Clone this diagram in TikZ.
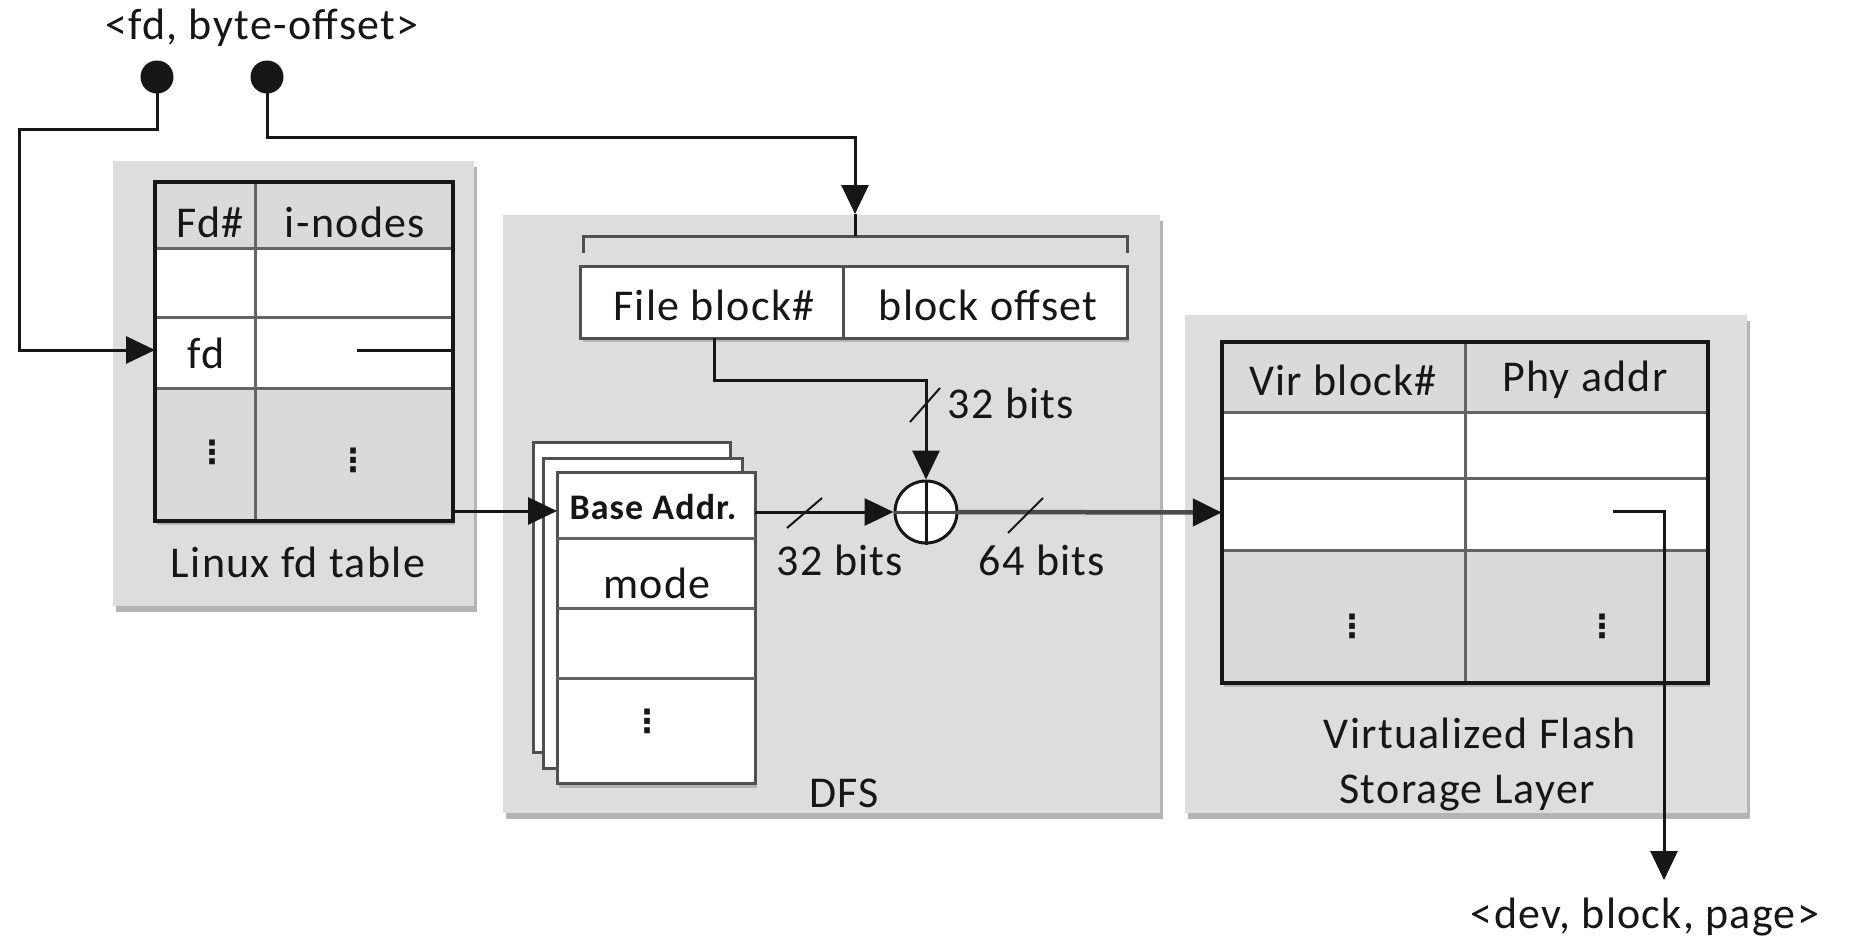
\documentclass[tikz,border=0pt]{standalone}
\usepackage{fontspec}
\setmainfont{Carlito}[LetterSpace=3]
\newfontfamily\symfont{DejaVu Sans Bold}
\usetikzlibrary{arrows.meta,fit,shadows,calc}
\definecolor{panel}{RGB}{221,221,221}
\definecolor{cellgray}{RGB}{218,218,218}
\definecolor{shade}{RGB}{180,180,180}
\definecolor{rowline}{RGB}{100,100,100}
\definecolor{sheetline}{RGB}{80,80,80}
\definecolor{ink}{RGB}{22,22,22}
\definecolor{wide}{RGB}{75,75,75}
\tikzset{
  lbl/.style={font=\fontsize{44}{50}\selectfont, text=ink, inner sep=0pt},
  blbl/.style={font=\fontsize{36}{40}\selectfont\bfseries, text=ink, inner sep=0pt},
  dotsym/.style={font=\symfont\fontsize{32}{32}\selectfont, text=ink, inner sep=0pt},
  conn/.style={draw=ink, line width=3pt},
  conn64/.style={draw=wide, line width=4.5pt},
  arr/.style={-{Triangle[length=29pt,width=27pt,color=ink]}},
  panelbox/.style={fill=panel, draw=none, inner sep=0pt,
    drop shadow={shadow xshift=3pt, shadow yshift=-6pt, fill=shade, opacity=1}},
  whitebox/.style={fill=white, draw=none, inner sep=0pt,
    drop shadow={shadow xshift=2pt, shadow yshift=-4pt, fill=shade, opacity=1}},
  border/.style={draw=ink, line width=4.5pt},
  rowl/.style={draw=rowline, line width=3pt},
  sheet/.style={fill=white, draw=sheetline, line width=3pt, inner sep=0pt},
  bigdot/.style={circle, fill=ink, minimum size=33pt, inner sep=0pt},
  slash/.style={draw=ink, line width=2pt},
}
\begin{document}
\begin{tikzpicture}[x=1pt,y=-1pt]
\useasboundingbox (0,0) rectangle (1853,940);

% ---------------- panels ----------------
\node[panelbox, fit={(113,161) (474,606)}] (lpanel) {};
\node[panelbox, fit={(503,215) (1160,813)}] (dpanel) {};
\node[panelbox, fit={(1185,315) (1747,813)}] (vpanel) {};

% ---------------- Linux fd table ----------------
\node[whitebox, fit={(155,182) (453,521)}] (ltab) {};
\fill[cellgray] (155,182) rectangle (453,248);
\fill[cellgray] (155,388) rectangle (453,521);
\draw[rowl] (155,248) -- (453,248);
\draw[rowl] (155,317) -- (453,317);
\draw[rowl] (155,388) -- (453,388);
\draw[rowl] (255,182) -- (255,521);
\draw[border] (ltab.north west) rectangle (ltab.south east);
\node[lbl] (fdh) at (210,222) {Fd\#};
\node[lbl] (inh) at (355,222) {i-nodes};
\node[lbl] (fdc) at (206,353) {fd};
\node[dotsym] (ld1) at (212,452) {⋮};
\node[dotsym] (ld2) at (353,460) {⋮};
\node[lbl] (ltitle) at (298,562) {Linux fd table};

% ---------------- DFS ----------------
\draw[draw=sheetline, line width=3pt] (583,253) -- (583,236) -- (1127,236) -- (1127,253);
\node[whitebox, fit={(581,267) (1127,338)}] (fbox) {};
\draw[draw=sheetline, line width=3pt] (fbox.north west) rectangle (fbox.south east);
\draw[draw=sheetline, line width=3pt] (843,267) -- (843,338);
\node[lbl] (fb) at (714,305) {File block\#};
\node[lbl] (bo) at (988,305) {block offset};

% stack of sheets
\node[sheet, fit={(533,442) (730,752)}] (back) {};
\node[sheet, fit={(543,458) (742,768)}] (mid) {};
\node[sheet, fit={(557,472) (755,783)},
  drop shadow={shadow xshift=2pt, shadow yshift=-5pt, fill=shade, opacity=1}] (front) {};
\draw[rowl] (557,538) -- (755,538);
\draw[rowl] (557,608) -- (755,608);
\draw[rowl] (557,678) -- (755,678);
\node[blbl] (ba) at (653,507) {Base Addr.};
\node[lbl] (mode) at (657,583) {mode};
\node[dotsym] (sd) at (647,721) {⋮};

% adder
\node[circle, fill=white, draw=ink, line width=3pt, minimum size=62pt, inner sep=0pt] (plus) at (926,512) {};
\draw[draw=wide, line width=3pt] (plus.west) -- (plus.east);
\draw[draw=ink, line width=3pt] (plus.north) -- (plus.south);
\node[lbl] (b32a) at (1011,403) {32 bits};
\node[lbl] (b32b) at (840,560) {32 bits};
\node[lbl] (b64) at (1042,560) {64 bits};
\node[lbl] (dfs) at (844,793) {DFS};

% ---------------- Virtualized Flash Storage Layer ----------------
\node[whitebox, fit={(1222,342) (1708,683)}] (vtab) {};
\fill[cellgray] (1222,342) rectangle (1708,412);
\fill[cellgray] (1222,550) rectangle (1708,683);
\draw[rowl] (1222,412) -- (1708,412);
\draw[rowl] (1222,478) -- (1708,478);
\draw[rowl] (1222,550) -- (1708,550);
\draw[rowl] (1465,342) -- (1465,683);
\draw[border] (vtab.north west) rectangle (vtab.south east);
\node[lbl] (vbh) at (1343,380) {Vir block\#};
\node[lbl] (pah) at (1585,380) {Phy addr};
\node[dotsym] (vd1) at (1352,626) {⋮};
\node[dotsym] (vd2) at (1602,626) {⋮};
\node[lbl] (vt1) at (1480,733) {Virtualized Flash};
\node[lbl] (vt2) at (1467,793) {Storage Layer};

% ---------------- outer labels and inputs ----------------
\node[lbl] (inlbl) at (262,28) {<fd, byte-offset>};
\node[lbl] (outlbl) at (1645,917) {<dev, block, page>};
\node[bigdot] (d1) at (157,77) {};
\node[bigdot] (d2) at (267,77) {};

% ---------------- connectors ----------------
\coordinate (fdin) at (155,350);
\coordinate (p1) at (357,350);
\coordinate (lcorner) at (453,511);
\coordinate (bain) at (557,511);
\coordinate (baout) at (755,512);
\coordinate (dfsin) at (855,214);
\coordinate (brk) at (855,236);
\coordinate (p2) at (1613,511);
\coordinate (outtip) at (1664,880);

\draw[conn, arr] (d1.center) |- (19,129) |- (fdin);
\draw[conn, arr] (d2.center) |- (855,137) -- (dfsin);
\draw[conn] (dfsin) -- (brk);
\draw[conn, arr] (p1) -| (lcorner) -- (bain);
\draw[conn, arr] (baout) -- (plus.west);
\draw[conn, arr] (fb |- fbox.south) -- ++(0,42) -| (plus.north);
\draw[conn64, arr] (plus.east) -- (vtab.west);
\draw[conn, arr] (p2) -| (outtip);

% bus-width slashes
\draw[slash] (910,422) -- (940,388);
\draw[slash] (787,528) -- (822,498);
\draw[slash] (1008,533) -- (1043,498);
\end{tikzpicture}
\end{document}
